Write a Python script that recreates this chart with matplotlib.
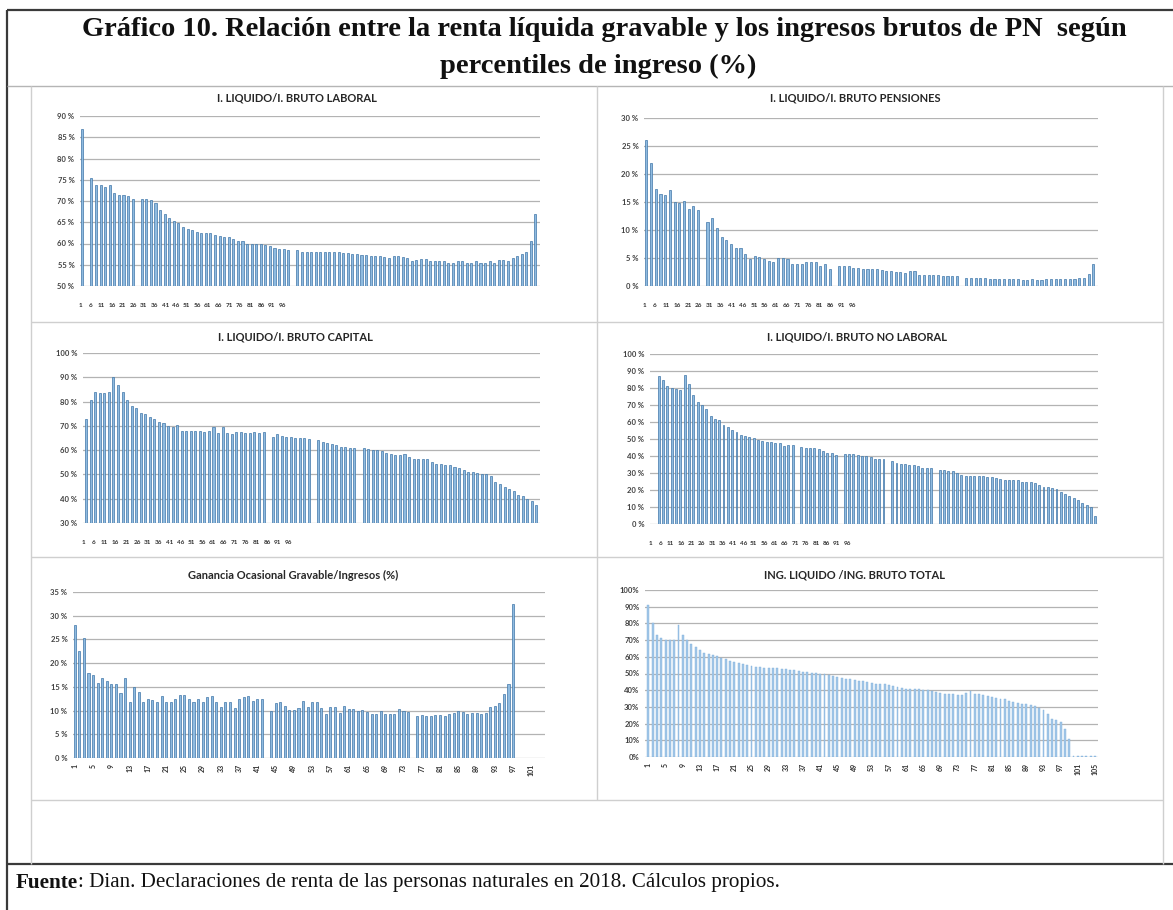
import numpy as np
import matplotlib
matplotlib.use("Agg")
import matplotlib.pyplot as plt
from matplotlib.lines import Line2D

nan = np.nan
W, H = 1173, 910

# ---------------- data ----------------
main_title = ("Gráfico 10. Relación entre la renta líquida gravable y los ingresos brutos de PN  según\n"
              "percentiles de ingreso (%)")
source_bold = "Fuente"
source_rest = ": Dian. Declaraciones de renta de las personas naturales en 2018. Cálculos propios."

titles = ["I. LIQUIDO/I. BRUTO LABORAL", "I. LIQUIDO/I. BRUTO PENSIONES",
          "I. LIQUIDO/I. BRUTO CAPITAL", "I. LIQUIDO/I. BRUTO NO LABORAL",
          "Ganancia Ocasional Gravable/Ingresos (%)", "ING. LIQUIDO /ING. BRUTO TOTAL"]

laboral = [87.0, nan, 75.5, 73.8, 73.8, 73.3, 73.8, 72.0, 71.5, 71.5,
           71.2, 70.5, nan, 70.5, 70.5, 70.3, 69.5, 68.0, 67.0, 66.0,
           65.3, 64.8, 64.0, 63.5, 63.2, 62.8, 62.5, 62.5, 62.5, 62.0,
           61.8, 61.5, 61.5, 61.0, 60.5, 60.5, 60.0, 60.0, 59.8, 59.8,
           59.6, 59.4, 59.0, 58.8, 58.6, 58.5, nan, 58.5, 58.0, 58.0,
           58.0, 58.0, 58.0, 58.0, 58.0, 58.0, 58.0, 57.8, 57.8, 57.6,
           57.5, 57.2, 57.2, 57.0, 57.0, 57.0, 56.8, 56.6, 57.0, 57.0,
           56.8, 56.5, 56.0, 56.2, 56.3, 56.3, 56.0, 56.0, 56.0, 55.8,
           55.5, 55.5, 55.8, 55.8, 55.5, 55.5, 55.8, 55.5, 55.5, 55.8,
           55.5, 56.2, 56.2, 55.8, 56.5, 57.0, 57.5, 58.0, 60.5, 67.0]

pensiones = [26.0, 22.0, 17.3, 16.5, 16.3, 17.2, 15.0, 14.8, 15.2, 13.8,
             14.2, 13.5, nan, 11.5, 12.2, 10.3, 8.8, 8.2, 7.5, 6.8,
             6.8, 5.8, 4.8, 5.3, 5.2, 4.8, 4.5, 4.3, 5.0, 5.0,
             4.8, 4.0, 4.0, 4.0, 4.3, 4.3, 4.2, 3.5, 4.0, 3.0,
             nan, 3.5, 3.6, 3.6, 3.3, 3.2, 3.0, 3.0, 3.0, 3.0,
             2.8, 2.6, 2.6, 2.5, 2.5, 2.4, 2.6, 2.6, 2.0, 2.0,
             1.9, 1.9, 1.9, 1.8, 1.8, 1.8, 1.7, nan, 1.5, 1.5,
             1.4, 1.4, 1.4, 1.3, 1.3, 1.3, 1.3, 1.2, 1.2, 1.2,
             1.1, 1.1, 1.2, 1.1, 1.1, 1.2, 1.2, 1.2, 1.3, 1.3,
             1.3, 1.3, 1.4, 1.5, 2.2, 4.0]

capital = [73.0, 80.5, 84.0, 83.5, 83.5, 84.0, 90.0, 87.0, 84.0, 80.5,
           78.0, 77.5, 75.5, 75.0, 73.5, 73.0, 71.5, 71.0, 70.0, 69.5,
           70.5, 68.0, 68.0, 68.0, 68.0, 68.0, 67.5, 68.0, 69.5, 67.0,
           69.5, 67.0, 66.5, 67.5, 67.5, 67.0, 67.0, 67.5, 67.0, 67.5,
           nan, 65.5, 66.5, 66.0, 65.5, 65.5, 65.0, 65.0, 64.8, 64.5,
           nan, 64.0, 63.5, 63.0, 62.5, 62.0, 61.5, 61.5, 61.0, 60.8,
           nan, 61.0, 60.5, 60.0, 60.0, 59.5, 59.0, 58.5, 58.0, 58.0,
           58.5, 57.0, 56.5, 56.5, 56.5, 56.5, 55.0, 54.5, 54.5, 54.0,
           54.0, 53.0, 52.5, 52.0, 51.0, 51.0, 50.5, 50.0, 50.0, 49.5,
           47.0, 46.0, 45.0, 44.0, 43.0, 41.5, 41.0, 40.0, 39.0, 37.5]

no_laboral = [87.0, 84.5, 81.0, 80.0, 79.5, 79.0, 87.5, 82.5, 76.0, 72.0,
              70.0, 67.5, 63.5, 62.0, 61.0, 58.0, 57.0, 55.5, 54.0, 52.5,
              51.5, 51.0, 50.5, 49.5, 49.0, 48.0, 48.0, 47.5, 47.5, 46.0,
              46.5, 46.5, nan, 45.5, 44.5, 44.5, 44.5, 44.0, 43.0, 42.0,
              41.5, 40.5, nan, 41.0, 41.0, 41.0, 40.5, 40.0, 40.0, 39.5,
              38.5, 38.5, 38.5, nan, 37.0, 36.0, 35.5, 35.5, 35.0, 34.5,
              34.0, 33.0, 33.0, 33.0, nan, 32.0, 31.5, 31.0, 31.0, 30.0,
              29.0, 28.5, 28.5, 28.0, 28.0, 28.0, 27.5, 27.5, 27.0, 26.5,
              26.0, 26.0, 26.0, 26.0, 25.0, 25.0, 24.5, 24.0, 23.0, 22.0,
              21.5, 21.0, 20.5, 19.0, 17.5, 16.5, 15.5, 14.0, 12.5, 11.0,
              10.0, 5.0]

ganancia = [28.0, 22.5, 25.3, 18.0, 17.5, 15.8, 16.8, 16.2, 15.5, 15.5,
            13.8, 16.8, 11.8, 15.0, 14.0, 11.8, 12.5, 12.3, 11.8, 13.0,
            11.8, 11.8, 12.5, 13.3, 13.3, 12.5, 11.8, 12.5, 11.8, 12.8,
            13.0, 11.8, 10.8, 11.8, 11.8, 10.5, 12.5, 12.8, 13.0, 12.0,
            12.5, 12.5, nan,
            10.0, 11.5, 11.8, 11.0, 10.2, 10.2, 10.5, 12.0, 10.8, 11.8,
            11.8, 10.5, 9.3, 10.8, 10.8, 9.5, 11.0, 10.3, 10.3, 10.0,
            10.2, 9.8, 9.3, 9.3, 10.0, 9.3, 9.3, 9.3, 10.3, 10.0,
            9.8, nan,
            8.8, 9.0, 8.8, 8.8, 9.0, 9.0, 8.8, 9.2, 9.5, 10.0,
            9.8, 9.3, 9.5, 9.5, 9.3, 9.5, 10.8, 11.0, 11.5, 13.5,
            15.5, 32.5]

total = [91.0, 80.0, 73.0, 71.0, 70.0, 70.0, 70.0, 79.0, 73.0, 70.0,
         67.5, 66.0, 64.0, 62.5, 61.5, 61.0, 60.5, 59.5, 58.5, 57.5,
         57.0, 56.5, 55.5, 55.0, 54.5, 54.0, 54.0, 53.5, 53.5, 53.0,
         53.0, 52.5, 52.5, 52.0, 52.0, 51.5, 51.0, 51.0, 50.5, 50.5,
         50.0, 49.5, 49.0, 48.5, 48.0, 47.5, 47.0, 46.5, 46.0, 45.5,
         45.5, 45.0, 44.5, 44.0, 44.0, 43.5, 43.0, 42.5, 42.0, 41.5,
         41.0, 41.0, 40.5, 40.5, 40.0, 40.0, 39.5, 39.0, 38.5, 38.0,
         38.0, 37.5, 37.0, 37.0, 38.5, 39.5, 38.0, 37.5, 37.0, 36.5,
         36.0, 35.5, 35.0, 34.5, 33.5, 33.0, 32.5, 32.0, 31.5, 31.0,
         30.5, 29.5, 28.0, 26.0, 23.0, 22.0, 21.0, 17.0, 11.0, 0.3,
         0.3, 0.3, 0.3, 0.3, 0.3]

compressed_labels = ["1", "6", "11", "16", "21", "26", "31", "36", "41", "46",
                     "51", "56", "61", "66", "71", "76", "81", "86", "91", "96"]
ganancia_ticks = [1, 5, 9, 13, 17, 21, 25, 29, 33, 37, 41, 45, 49, 53, 57, 61,
                  65, 69, 73, 77, 81, 85, 89, 93, 97, 101]
total_ticks = [1, 5, 9, 13, 17, 21, 25, 29, 33, 37, 41, 45, 49, 53, 57, 61,
               65, 69, 73, 77, 81, 85, 89, 93, 97, 101, 105]

# ---------------- figure ----------------
fig = plt.figure(figsize=(W / 100, H / 100), dpi=100)
fig.patch.set_facecolor("white")


def fx(x):
    return x / W


def fy(y):
    return 1 - y / H


def hline(y, x0, x1, color, lw):
    fig.add_artist(Line2D([fx(x0), fx(x1)], [fy(y), fy(y)], transform=fig.transFigure,
                          color=color, lw=lw, solid_capstyle="butt"))


def vline(x, y0, y1, color, lw):
    fig.add_artist(Line2D([fx(x), fx(x)], [fy(y0), fy(y1)], transform=fig.transFigure,
                          color=color, lw=lw, solid_capstyle="butt"))


# frame
dark = "#3a3a3a"
light = "#cfcfcf"
hline(10, 7, W, dark, 1.6)
vline(7, 10, H, dark, 1.6)
hline(86, 7, W, "#b5b5b5", 1.0)
hline(864, 7, W, dark, 1.6)
vline(31, 86, 864, light, 1.0)
vline(1163, 86, 864, light, 1.0)
vline(597, 86, 800, light, 1.0)
for yy in (322, 557, 800):
    hline(yy, 31, 1163, light, 1.0)

fig.text(fx(604), fy(30), main_title.split("\n")[0], ha="center", va="center",
         family="Liberation Serif", weight="bold", fontsize=20.5, color="#111111")
fig.text(fx(598), fy(66), main_title.split("\n")[1], ha="center", va="center",
         family="Liberation Serif", weight="bold", fontsize=20.5, color="#111111")

t1 = fig.text(fx(16), fy(883), source_bold, ha="left", va="center", family="Liberation Serif",
              weight="bold", fontsize=15.2, color="#111111")
fig.canvas.draw()
bb = t1.get_window_extent()
fig.text(bb.x1 / W, fy(883), source_rest, ha="left", va="center", family="Liberation Serif",
         fontsize=15.2, color="#111111")

bar_face = "#8fbbe0"
bar_edge = "#3f76a8"
grid_col = "#b3b3b3"
tick_font = dict(family="Lato", weight="bold", size=5.5, color="#404040")


def make_ax(x0, y0, x1, y1):
    ax = fig.add_axes([fx(x0), fy(y1), (x1 - x0) / W, (y1 - y0) / H])
    ax.set_facecolor("none")
    for s in ax.spines.values():
        s.set_visible(False)
    ax.tick_params(length=0, pad=4)
    ax.yaxis.grid(True, color=grid_col, lw=0.9)
    ax.set_axisbelow(True)
    return ax


def style_yticks(ax, ticks, fmt):
    ax.set_yticks(ticks)
    ax.set_yticklabels([fmt.format(t) for t in ticks], **tick_font)


def compressed(ax, frac_end):
    ax.set_xticks([])
    n = len(compressed_labels)
    for i, lab in enumerate(compressed_labels):
        ax.text(0.0 + i * frac_end / (n - 1), -0.1, lab, transform=ax.transAxes,
                ha="center", va="top", family="Lato", weight="bold", fontsize=4.6,
                color="#303030")


def bars(ax, vals, width=0.45, face=bar_face, edge=bar_edge, lw=0.5):
    x = np.arange(1, len(vals) + 1)
    ax.bar(x, vals, width=width, color=face, edgecolor=edge, linewidth=lw)
    return x


# Panel 1: laboral
ax1 = make_ax(80, 116, 540, 286)
bars(ax1, laboral)
ax1.set_ylim(50, 90)
ax1.set_xlim(0.5, len(laboral) + 1.0)
style_yticks(ax1, np.arange(50, 91, 5), "{:.0f} %")
compressed(ax1, 0.44)

# Panel 2: pensiones
ax2 = make_ax(644, 118, 1098, 286)
bars(ax2, pensiones)
ax2.set_ylim(0, 30)
ax2.set_xlim(0.5, len(pensiones) + 1.0)
style_yticks(ax2, np.arange(0, 31, 5), "{:.0f} %")
compressed(ax2, 0.46)

# Panel 3: capital
ax3 = make_ax(83, 353, 540, 523)
bars(ax3, capital)
ax3.set_ylim(30, 100)
ax3.set_xlim(0.3, len(capital) + 0.8)
style_yticks(ax3, np.arange(30, 101, 10), "{:.0f} %")
compressed(ax3, 0.45)

# Panel 4: no laboral
ax4 = make_ax(650, 354, 1098, 524)
bars(ax4, no_laboral)
ax4.set_ylim(0, 100)
ax4.set_xlim(-1.0, len(no_laboral) + 0.6)
style_yticks(ax4, np.arange(0, 101, 10), "{:.0f} %")
compressed(ax4, 0.44)

# Panel 5: ganancia ocasional
ax5 = make_ax(73, 592, 545, 758)
bars(ax5, ganancia)
ax5.set_ylim(0, 35)
ax5.set_xlim(0.6, 104)
style_yticks(ax5, np.arange(0, 36, 5), "{:.0f} %")
ax5.set_xticks(ganancia_ticks)
ax5.set_xticklabels([str(t) for t in ganancia_ticks], rotation=90, family="Lato",
                    weight="bold", fontsize=5.0, color="#303030")

# Panel 6: total
ax6 = make_ax(645, 590, 1098, 757)
bars(ax6, total, width=0.45, face="#a3c7e8", edge="#7fb0dc", lw=0.3)
ax6.set_ylim(0, 100)
ax6.set_xlim(0.2, 105.7)
style_yticks(ax6, np.arange(0, 101, 10), "{:.0f}%")
ax6.set_xticks(total_ticks)
ax6.set_xticklabels([str(t) for t in total_ticks], rotation=90, family="Lato",
                    weight="bold", fontsize=5.0, color="#303030")

title_pos = [(297, 98), (855, 98), (295, 337), (857, 337), (293, 575), (855, 575)]
for (tx, ty), t in zip(title_pos, titles):
    fig.text(fx(tx), fy(ty), t, ha="center", va="center", family="Lato", weight="bold",
             fontsize=8, color="#262626")

fig.savefig("out.png", dpi=100, facecolor="white")
